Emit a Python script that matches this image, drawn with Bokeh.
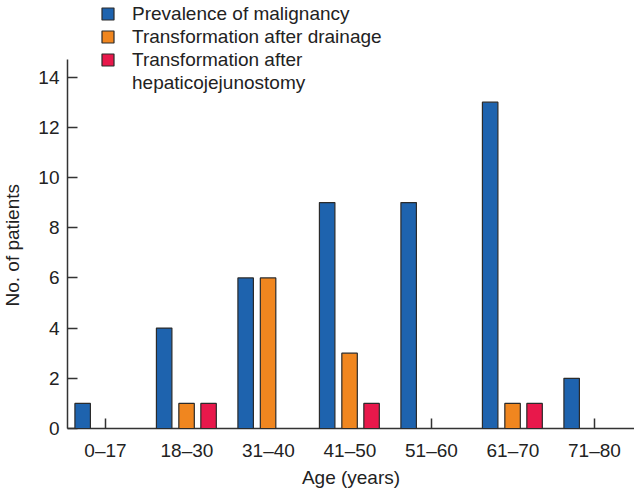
from bokeh.plotting import figure
from bokeh.models import (Range1d, FixedTicker, Legend, LegendItem, ColumnDataSource,
                          Title, LinearAxis)
from bokeh.transform import dodge
from bokeh.embed import file_html
from bokeh.resources import INLINE

categories = ["0–17", "18–30", "31–40", "41–50", "51–60", "61–70", "71–80"]
prevalence = [1, 4, 6, 9, 9, 13, 2]
after_drainage = [0, 1, 6, 3, 0, 1, 0]
after_hj = [0, 1, 0, 1, 0, 1, 0]
series_names = ["Prevalence of malignancy",
                "Transformation after drainage",
                "Transformation after"]
extra_label_line = "hepaticojejunostomy"
y_ticks = [0, 2, 4, 6, 8, 10, 12, 14]
y_axis_top = 14.7
x_title = "Age (years)"
y_title = "No. of patients"

colors = ["#1E63AE", "#F0861F", "#E8184B"]
offsets = [-0.28, -0.005, 0.265]
FONT = "Liberation Sans"
FS = "19px"

W, H = 634, 490
BL, BB = 67, 62
PX_PER_UNIT = 25.1
PX_PER_CAT = 81.5
frame_h = H - BB

p = figure(width=W, height=H, output_backend="svg", toolbar_location=None,
           x_range=Range1d(-0.466, -0.466 + (W - BL) / PX_PER_CAT),
           y_range=Range1d(0, frame_h / PX_PER_UNIT),
           min_border_left=BL, min_border_right=0, min_border_top=0,
           min_border_bottom=BB)
p.outline_line_color = None
p.xgrid.grid_line_color = None
p.ygrid.grid_line_color = None

items = []
for name, vals, col, off in zip(series_names, [prevalence, after_drainage, after_hj], colors, offsets):
    xs = [i for i, v in enumerate(vals) if v > 0]
    tops = [v for v in vals if v > 0]
    src = ColumnDataSource(dict(x=xs, top=tops))
    r = p.vbar(x=dodge("x", off, range=p.x_range), top="top", bottom=0, width=0.19,
               source=src, fill_color=col, line_color="#2b2b2b", line_width=1.2)
    r.level = "annotation"
    items.append(LegendItem(label=name, renderers=[r]))

# invisible renderer so the legend's last label wraps onto a second line
dummy = p.vbar(x=[], top=[], width=0.19, fill_alpha=0, line_alpha=0)
items.append(LegendItem(label=extra_label_line, renderers=[dummy]))

row_h = 23
leg_h = row_h * len(items)
legend = Legend(items=items, location=(33, frame_h - 2 - leg_h), orientation="vertical",
                glyph_width=15, glyph_height=15, label_standoff=17,
                label_text_font=FONT, label_text_font_size=FS,
                label_text_color="#222222", label_height=row_h, spacing=0,
                padding=0, margin=0, border_line_color=None,
                background_fill_alpha=0)
p.add_layout(legend)

for ax in (p.xaxis[0], p.yaxis[0]):
    ax.axis_line_color = "#333333"
    ax.axis_line_width = 1.5
    ax.major_tick_line_color = "#333333"
    ax.major_tick_line_width = 1.5
    ax.major_tick_in = 10
    ax.major_tick_out = 0
    ax.minor_tick_line_color = None
    ax.major_label_text_font = FONT
    ax.major_label_text_font_size = FS
    ax.major_label_text_color = "#222222"
    ax.axis_label_text_font = FONT
    ax.axis_label_text_font_size = FS
    ax.axis_label_text_font_style = "normal"
    ax.axis_label_text_color = "#222222"

p.xaxis.ticker = FixedTicker(ticks=list(range(len(categories))))
p.xaxis.major_label_overrides = {i: c for i, c in enumerate(categories)}
p.xaxis.axis_label = x_title
p.xaxis.major_label_standoff = 11
p.xaxis.axis_label_standoff = 3

p.yaxis.ticker = FixedTicker(ticks=y_ticks)
p.yaxis.bounds = (0, y_axis_top)
p.yaxis.major_label_standoff = 8

# invisible spacer between the y axis and its title
spacer = LinearAxis(ticker=FixedTicker(ticks=[0]), axis_line_color=None,
                    major_tick_in=0, major_tick_out=12, major_tick_line_color=None,
                    minor_tick_in=0, minor_tick_out=0, minor_tick_line_color=None,
                    major_label_overrides={0: ""}, major_label_standoff=0,
                    major_label_text_font_size="1px", major_label_text_alpha=0)
p.add_layout(spacer, "left")

# y-axis title, centred on the drawn axis (0..14.7) rather than the taller frame
ytitle = Title(text=y_title, align="left", offset=122, vertical_align="middle",
               text_font=FONT, text_font_size=FS, text_font_style="normal",
               text_color="#222222", standoff=0)
p.add_layout(ytitle, "left")

open("out.html", "w").write(file_html(p, INLINE))
